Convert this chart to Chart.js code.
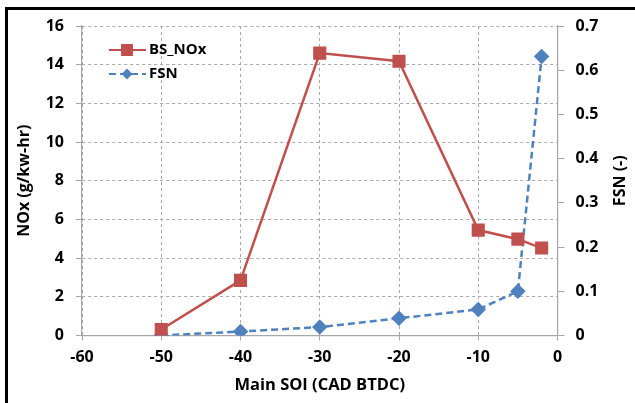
<!DOCTYPE html>
<html>
<head>
<meta charset="utf-8">
<script src="https://cdn.jsdelivr.net/npm/chart.js@4.4.1/dist/chart.umd.min.js"></script>
<style>
  html, body { margin: 0; padding: 0; background: #fff; }
  #wrap { width: 635px; height: 403px; position: relative; }
</style>
</head>
<body>
<div id="wrap"><canvas id="chart"></canvas></div>
<script>
// données
const mainSOI = [-50, -40, -30, -20, -10, -5, -2];
const bsNOx = [0.31, 2.85, 14.6, 14.18, 5.45, 4.98, 4.52];
const fsn = [0.0, 0.009, 0.019, 0.039, 0.059, 0.1, 0.631];
const xTicks = [-60, -50, -40, -30, -20, -10, 0];
const noxTicks = [0, 2, 4, 6, 8, 10, 12, 14, 16];
const fsnTicks = [0, 0.1, 0.2, 0.3, 0.4, 0.5, 0.6, 0.7];

const RED = '#C0504D';
const BLUE = '#4F81BD';
const FONT = '"Open Sans", "Noto Sans", sans-serif';

// cadre noir (gauche + haut), titre de l'axe droit et légende dans la zone du graphique
const framePlugin = {
    id: 'frame',
    afterDraw(chart) {
        const ctx = chart.ctx;
        ctx.save();
        ctx.fillStyle = '#000';
        ctx.fillRect(5, 7, 3, 403);
        ctx.fillRect(5, 7, 640, 3);

        // titre axe droit, lu de bas en haut
        const area = chart.chartArea;
        ctx.save();
        ctx.translate(620, (area.top + area.bottom) / 2);
        ctx.rotate(-Math.PI / 2);
        ctx.font = 'bold 16px ' + FONT;
        ctx.textAlign = 'center';
        ctx.textBaseline = 'middle';
        ctx.fillStyle = '#000';
        ctx.fillText('FSN (-)', 0, 0);
        ctx.restore();

        const items = [
            { label: 'BS_NOx', ds: chart.data.datasets[0], y: 50 },
            { label: 'FSN', ds: chart.data.datasets[1], y: 74 }
        ];
        items.forEach(it => {
            ctx.strokeStyle = it.ds.borderColor;
            ctx.lineWidth = 2;
            ctx.setLineDash(it.ds.borderDash || []);
            ctx.beginPath();
            ctx.moveTo(109, it.y);
            ctx.lineTo(146, it.y);
            ctx.stroke();
            ctx.setLineDash([]);
            Chart.helpers.drawPoint(ctx, {
                pointStyle: it.ds.pointStyle,
                radius: it.ds.pointStyle === 'rect' ? 7 : 4,
                rotation: 0,
                borderWidth: 1
            }, 127, it.y);
            ctx.fillStyle = it.ds.pointBackgroundColor;
            ctx.fill();
            ctx.fillStyle = '#000';
            ctx.font = 'bold 15px ' + FONT;
            ctx.textBaseline = 'middle';
            ctx.textAlign = 'left';
            ctx.fillText(it.label, 149, it.y);
        });
        ctx.restore();
    }
};

const gridStyle = {
    color: '#a8a8a8',
    lineWidth: 1,
    tickLength: 6,
    tickColor: '#a6a6a6'
};
const borderStyle = { display: true, color: '#a6a6a6', width: 1.2, dash: [3, 3] };

new Chart(document.getElementById('chart'), {
    type: 'line',
    data: {
        datasets: [{
            label: 'BS_NOx',
            data: mainSOI.map((x, i) => ({ x: x, y: bsNOx[i] })),
            borderColor: RED,
            backgroundColor: RED,
            pointBackgroundColor: RED,
            pointBorderColor: RED,
            borderWidth: 2.5,
            pointStyle: 'rect',
            pointRadius: 7.5,
            yAxisID: 'y',
            tension: 0
        }, {
            label: 'FSN',
            data: mainSOI.map((x, i) => ({ x: x, y: fsn[i] })),
            borderColor: BLUE,
            backgroundColor: BLUE,
            pointBackgroundColor: BLUE,
            pointBorderColor: BLUE,
            borderWidth: 2.5,
            borderDash: [7, 4],
            pointStyle: 'rectRot',
            pointRadius: 6,
            yAxisID: 'y2',
            tension: 0
        }]
    },
    options: {
        responsive: true,
        maintainAspectRatio: false,
        animation: false,
        layout: { padding: { top: 26, left: 0, right: 0, bottom: 0 } },
        plugins: {
            legend: { display: false },
            tooltip: { enabled: false }
        },
        scales: {
            x: {
                type: 'linear',
                min: -60,
                max: 0,
                afterBuildTicks: s => { s.ticks = xTicks.map(v => ({ value: v })); },
                afterFit: s => { s.height = 67.5; },
                grid: { ...gridStyle, tickLength: 5 },
                border: borderStyle,
                ticks: {
                    color: '#000',
                    padding: 7,
                    font: { family: FONT, size: 16, weight: 'bold' }
                },
                title: {
                    display: true,
                    text: 'Main SOI (CAD BTDC)',
                    color: '#000',
                    padding: { top: 0, bottom: 8 },
                    font: { family: FONT, size: 16.5, weight: 'bold' }
                }
            },
            y: {
                position: 'left',
                min: 0,
                max: 16,
                afterBuildTicks: s => { s.ticks = noxTicks.map(v => ({ value: v })); },
                afterFit: s => { s.width = 82; },
                grid: gridStyle,
                border: borderStyle,
                ticks: {
                    color: '#000',
                    padding: 12,
                    font: { family: FONT, size: 16, weight: 'bold' }
                },
                title: {
                    display: true,
                    text: 'NOx (g/kw-hr)',
                    color: '#000',
                    padding: { top: 15, bottom: 0 },
                    font: { family: FONT, size: 16, weight: 'bold' }
                }
            },
            y2: {
                position: 'right',
                min: 0,
                max: 0.7,
                afterBuildTicks: s => { s.ticks = fsnTicks.map(v => ({ value: v })); },
                afterFit: s => { s.width = 77.5; },
                grid: { ...gridStyle, drawOnChartArea: false, tickLength: 7 },
                border: { ...borderStyle, dash: [] },
                ticks: {
                    color: '#000',
                    padding: 11,
                    font: { family: FONT, size: 16, weight: 'bold' },
                    callback: v => (v === 0 ? '0' : v.toFixed(1))
                },
                title: { display: false }
            }
        }
    },
    plugins: [framePlugin]
});
</script>
</body>
</html>
